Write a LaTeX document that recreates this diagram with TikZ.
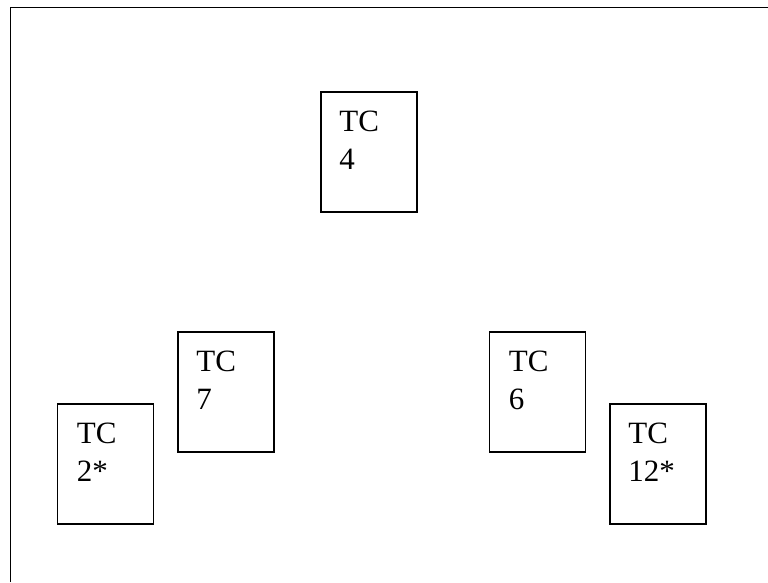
\documentclass[tikz,border=0pt]{standalone}
\usepackage{fontspec}
\setmainfont{Liberation Serif}
\usetikzlibrary{positioning}
\tikzset{
    tcbox/.style={
        draw,
        line width=1.6pt,
        minimum width=96pt,
        minimum height=120pt,
        inner sep=0pt},
    tclabel/.style={
        anchor=base west,
        align=left,
        inner sep=0pt,
        font=\fontsize{31}{38}\selectfont},
    frame/.style={
        line width=1.8pt}}

\begin{document}
\begin{tikzpicture}[x=1pt,y=-1pt]
        \useasboundingbox (0,0) rectangle (768,582);
        \draw[frame] (10.5,582) |- (768,7.5);
        \node[tcbox] (tc4) at (369,152) {};
        \node[tcbox] (tc7) at (226,392) {};
        \node[tcbox] (tc2) at (105.5,464) {};
        \node[tcbox] (tc6) at (537.5,392) {};
        \node[tcbox] (tc12) at (658,464) {};
        % base west is the last line, so drop by two lines
        \node[tclabel] (tc4text) at ([shift={(19,78)}]tc4.north west) {TC\\4};
        \node[tclabel] (tc7text) at ([shift={(19,78)}]tc7.north west) {TC\\7};
        \node[tclabel] (tc2text) at ([shift={(20,78)}]tc2.north west) {TC\\2*};
        \node[tclabel] (tc6text) at ([shift={(20,78)}]tc6.north west) {TC\\6};
        \node[tclabel] (tc12text) at ([shift={(19,78)}]tc12.north west) {TC\\12*};
    \end{tikzpicture}
\end{document}
